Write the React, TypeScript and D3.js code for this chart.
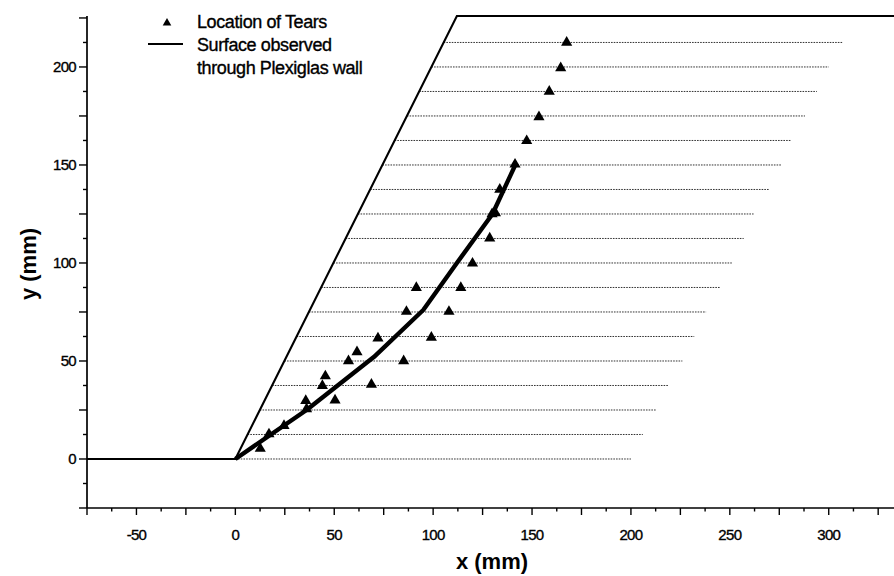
import React from 'react';
import * as d3 from 'd3';

// geometry of the slope (ground -> toe -> crest -> right edge)
const slopeX = [-75, 0, 112, 333];
const slopeY = [0, 0, 226, 226];

// reinforcement layers: height and right end of each dotted line
const layerY = [0, 12.5, 25, 37.5, 50, 62.5, 75, 87.5, 100, 112.5, 125, 137.5, 150, 162.5, 175, 187.5, 200, 212.5];
const layerEnd = [200, 206, 213, 219, 226, 232, 238, 245, 251, 257, 262, 270, 276, 281, 288, 294, 300, 307];

// surface observed through Plexiglas wall
const surfaceX = [0, 36, 70, 95, 112, 130, 142];
const surfaceY = [0, 25, 52, 76, 100, 125, 151];

// location of tears
const tearX = [12.6, 17, 24.6, 35.6, 36, 50.4, 44, 45.5, 57.2, 61.5, 68.8, 72.1, 85.1, 86.5, 91.5, 99.1, 108, 114, 119.9,
  128.6, 129.8, 131.5, 133.7, 141.4, 147.3, 153.5, 158.7, 164.5, 167.5];
const tearY = [5.3, 12.7, 17, 29.7, 25.5, 30, 37.4, 42.3, 50, 54.6, 38, 61.6, 50, 75.2, 87.4, 62, 75.2, 87.4, 99.8,
  112.6, 125, 125.5, 137.5, 150.3, 162.3, 174.5, 187.5, 199.5, 212.5];

const xTicks = d3.range(-75, 326, 12.5);
const yTicks = d3.range(-25, 226, 12.5);
const xLabels = [-50, 0, 50, 100, 150, 200, 250, 300];
const yLabels = [0, 50, 100, 150, 200];

export default function App() {
  const width = 894, height = 576;
  const x = d3.scaleLinear().domain([-75, 333]).range([87, 894]);
  const y = d3.scaleLinear().domain([-25, 226]).range([508, 16]);

  const line = d3.line<[number, number]>().x(d => x(d[0])).y(d => y(d[1]));
  const slope = line(slopeX.map((v, i) => [v, slopeY[i]]));
  const surface = line(surfaceX.map((v, i) => [v, surfaceY[i]]));
  // x of the slope face at a given height
  const face = (h: number) => slopeX[1] + (slopeX[2] - slopeX[1]) * h / (slopeY[2] - slopeY[1]);
  const tri = d3.symbol().type(d3.symbolTriangle).size(54)();
  const triSmall = d3.symbol().type(d3.symbolTriangle).size(32)();

  const font = 'Arial, "Liberation Sans", Helvetica, sans-serif';
  const ink = { stroke: '#000', strokeWidth: 0.35 };

  return (
    <svg width={width} height={height} style={{ position: 'absolute', left: 0, top: 0, background: '#fff' }}
      fontFamily={font}>
      {/* dotted layers */}
      {layerY.map((h, i) => (
        <line key={'l' + i} x1={x(face(h))} x2={x(layerEnd[i])} y1={y(h)} y2={y(h)}
          stroke="#333" strokeWidth={1} strokeDasharray="1.6 1.1" />
      ))}
      {/* slope outline */}
      <path d={slope!} fill="none" stroke="#000" strokeWidth={2.1} />
      {/* observed surface */}
      <path d={surface!} fill="none" stroke="#000" strokeWidth={4.4} strokeLinejoin="round" />
      {/* tears */}
      {tearX.map((v, i) => (
        <path key={'t' + i} d={tri!} transform={`translate(${x(v)},${y(tearY[i])})`} fill="#000" />
      ))}

      {/* axes */}
      <line x1={x(-75)} x2={x(333)} y1={y(-25)} y2={y(-25)} stroke="#000" strokeWidth={1.7} />
      <line x1={x(-75)} x2={x(-75)} y1={y(-25)} y2={y(226)} stroke="#000" strokeWidth={1.7} />
      {xTicks.map((t, i) => (
        <line key={'xt' + i} x1={x(t)} x2={x(t)} y1={y(-25)} y2={y(-25) + (t % 25 === 0 ? 7 : 3.5)}
          stroke="#000" strokeWidth={1.4} />
      ))}
      {yTicks.map((t, i) => (
        <line key={'yt' + i} x1={x(-75)} x2={x(-75) - (t % 25 === 0 ? 8 : 4)} y1={y(t)} y2={y(t)}
          stroke="#000" strokeWidth={1.4} />
      ))}
      {xLabels.map(t => (
        <text key={'xl' + t} x={x(t)} y={540} textAnchor="middle" fontSize={15} letterSpacing={-0.7} {...ink}>{t}</text>
      ))}
      {yLabels.map(t => (
        <text key={'yl' + t} x={76} y={y(t) + 5} textAnchor="end" fontSize={15} letterSpacing={-0.7} {...ink}>{t}</text>
      ))}
      <text x={492} y={569} textAnchor="middle" fontSize={22} fontWeight="bold">x (mm)</text>
      <text transform={`translate(36,264) rotate(-90)`} textAnchor="middle" fontSize={22} fontWeight="bold">y (mm)</text>

      {/* legend */}
      <path d={triSmall!} transform="translate(167,23)" fill="#000" />
      <text x={197} y={28} fontSize={18} letterSpacing={-0.4} {...ink}>Location of Tears</text>
      <line x1={148} x2={183} y1={44} y2={44} stroke="#000" strokeWidth={2} />
      <text x={197} y={51} fontSize={18} letterSpacing={-0.4} {...ink}>Surface observed</text>
      <text x={197} y={74} fontSize={18} letterSpacing={-0.4} {...ink}>through Plexiglas wall</text>
    </svg>
  );
}
